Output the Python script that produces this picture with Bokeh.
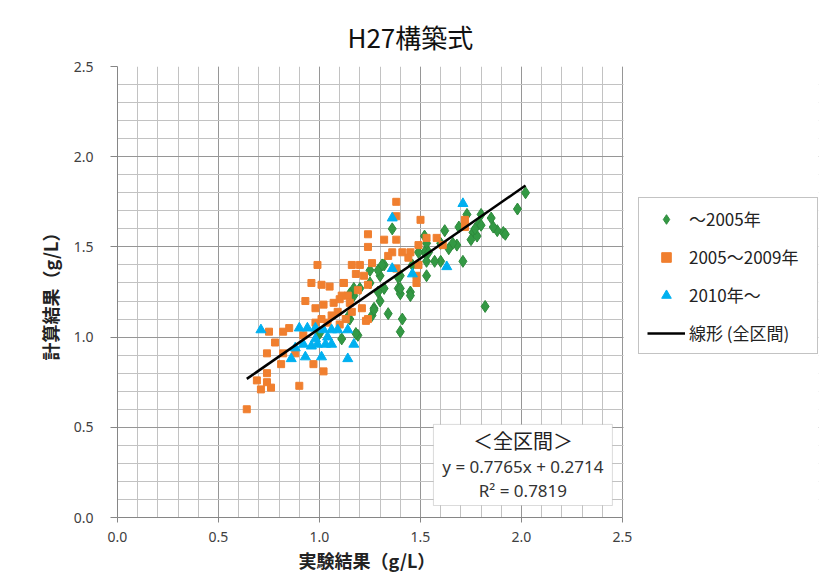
import numpy as np
from bokeh.plotting import figure
from bokeh.models import (Range1d, SingleIntervalTicker, NumeralTickFormatter, Legend,
                          LegendItem, BoxAnnotation, Label, Title)
from bokeh.embed import file_html
from bokeh.resources import INLINE

# ---------------- data ----------------
title_text = "H27構築式"
x_label = "実験結果（g/L）"
y_label = "計算結果（g/L）"
series_names = ["～2005年", "2005～2009年", "2010年～"]
trend_name = "線形 (全区間)"
box_title = "＜全区間＞"
slope = 0.7765
intercept = 0.2714
r2 = 0.7819
axis_min, axis_max = 0.0, 2.5

g_x = [1.36, 1.32, 1.30, 1.40, 1.46, 1.52, 1.53, 1.25, 1.32, 1.39, 1.45, 1.40, 1.20, 1.17,
       1.29, 1.52, 1.30, 1.45, 1.27, 1.26, 1.34, 1.41, 1.40, 1.19, 1.15, 1.11, 2.02, 1.98,
       1.91, 1.88, 1.86, 1.85, 1.80, 1.79, 1.73, 1.76, 1.78, 1.75, 1.71, 1.68, 1.69, 1.66,
       1.62, 1.60, 1.64, 1.60, 1.57, 1.53, 1.53, 1.82, 1.39, 1.54, 1.92, 1.80, 1.77, 1.25,
       1.29, 1.31, 1.40, 1.27, 1.17, 1.15, 1.14, 1.18, 1.49, 1.00]
g_y = [1.60, 1.40, 1.34, 1.34, 1.40, 1.56, 1.52, 1.30, 1.27, 1.27, 1.25, 1.24, 1.27, 1.23,
       1.25, 1.47, 1.20, 1.23, 1.16, 1.12, 1.13, 1.10, 1.03, 1.01, 1.10, 0.99, 1.80, 1.71,
       1.58, 1.59, 1.61, 1.66, 1.68, 1.63, 1.68, 1.58, 1.56, 1.54, 1.42, 1.51, 1.61, 1.52,
       1.59, 1.52, 1.49, 1.42, 1.42, 1.42, 1.34, 1.17, 1.33, 1.47, 1.57, 1.62, 1.60, 1.37,
       1.37, 1.40, 1.27, 1.15, 1.27, 1.24, 1.11, 1.02, 1.47, 1.02]

o_x = [0.99, 0.96, 1.01, 1.05, 0.93, 0.98, 1.02, 1.07, 0.75, 0.85, 0.82, 0.78, 0.74, 0.82,
       0.81, 0.88, 0.97, 1.02, 0.74, 0.69, 0.74, 0.71, 0.76, 0.90, 0.64, 0.98, 1.04, 0.92,
       1.38, 1.38, 1.50, 1.24, 1.32, 1.38, 1.24, 1.36, 1.41, 1.45, 1.49, 1.34, 1.16, 1.20,
       1.26, 1.18, 1.22, 1.12, 1.24, 1.14, 1.11, 1.48, 1.49, 1.38, 1.44, 1.19, 1.48, 1.10,
       1.15, 1.21, 1.24, 1.09, 1.13, 1.01, 1.53, 1.58, 1.61, 1.72, 1.72, 1.06, 1.10, 1.16,
       1.12, 1.23]
o_y = [1.40, 1.30, 1.29, 1.28, 1.20, 1.16, 1.18, 1.19, 1.03, 1.05, 1.03, 0.97, 0.91, 0.91,
       0.85, 0.91, 0.85, 0.81, 0.80, 0.76, 0.75, 0.71, 0.72, 0.73, 0.60, 1.08, 1.08, 1.01,
       1.75, 1.67, 1.65, 1.57, 1.54, 1.54, 1.50, 1.47, 1.47, 1.47, 1.51, 1.45, 1.40, 1.40,
       1.41, 1.35, 1.34, 1.30, 1.29, 1.23, 1.23, 1.30, 1.40, 1.38, 1.44, 1.26, 1.34, 1.21,
       1.19, 1.16, 1.10, 1.14, 1.10, 1.10, 1.55, 1.55, 1.51, 1.65, 1.61, 1.12, 1.07, 1.14,
       1.30, 1.09]

c_x = [0.71, 0.90, 0.94, 0.98, 1.02, 1.06, 1.09, 1.14, 0.86, 0.93, 1.01, 1.14, 0.92, 0.96,
       0.99, 1.03, 1.06, 0.98, 1.04, 0.88, 1.17, 1.36, 1.36, 1.46, 1.71, 1.63]
c_y = [1.04, 1.05, 1.05, 1.05, 1.04, 1.04, 1.04, 1.04, 0.88, 0.89, 0.89, 0.88, 0.96, 0.95,
       0.96, 0.96, 0.96, 0.99, 1.00, 0.94, 0.96, 1.66, 1.38, 1.35, 1.74, 1.39]

# ---------------- layout (pixels) ----------------
W, H = 820, 576
LEFT, TOP, BOTTOM, RIGHT = 117, 66, 59, 2
PLOT_W = 505                      # pixel width of the 0..2.5 plot area
frame_w = W - LEFT - RIGHT
x_end = axis_max * frame_w / PLOT_W  # frame extends right to hold the legend

CJK = "Noto Sans CJK JP"
NUM = "Noto Sans"

p = figure(width=W, height=H, x_range=Range1d(axis_min, x_end), y_range=Range1d(axis_min, axis_max),
           output_backend="svg", toolbar_location=None,
           min_border_left=LEFT, min_border_right=RIGHT, min_border_top=TOP, min_border_bottom=BOTTOM)
p.background_fill_color = "white"
p.border_fill_color = "white"
p.outline_line_color = None

p.add_layout(Title(text=title_text, align="left", offset=230, standoff=24,
                   text_font=CJK, text_font_size="26px", text_font_style="normal",
                   text_color="#111111"), "above")

for ax in (p.xaxis, p.yaxis):
    ax.ticker = SingleIntervalTicker(interval=0.5, num_minor_ticks=5)
    ax.formatter = NumeralTickFormatter(format="0.0")
    ax.bounds = (axis_min, axis_max)
    ax.axis_line_color = "#868686"
    ax.major_tick_line_color = "#868686"
    ax.major_tick_in = 0
    ax.minor_tick_line_color = None
    ax.major_label_text_font = NUM
    ax.major_label_text_font_size = "14px"
    ax.major_label_text_color = "#404040"
    ax.axis_label_text_font = CJK
    ax.axis_label_text_font_style = "bold"
    ax.axis_label_text_font_size = "18px"
    ax.axis_label_text_color = "#222222"

p.xaxis.major_tick_out = 5
p.xaxis.major_label_standoff = 9
p.yaxis.major_tick_out = 7
p.yaxis.major_label_standoff = 17
p.yaxis.axis_label_standoff = 8
p.yaxis.axis_label = y_label

# x-axis title, centred under the 0..2.5 plot area
p.add_layout(Title(text=x_label, align="left", offset=181, standoff=0,
                   text_font=CJK, text_font_size="18px", text_font_style="bold",
                   text_color="#222222"), "below")

for gr in (p.xgrid, p.ygrid):
    gr.bounds = (axis_min, axis_max)
    gr.grid_line_color = "#969696"
    gr.grid_line_width = 1
    gr.minor_grid_line_color = "#C2C2C2"
    gr.minor_grid_line_width = 1

# white cover for the grid outside the 0..2.5 plot area (legend zone)
p.add_layout(BoxAnnotation(left=axis_max + 1.0 / (PLOT_W / axis_max), fill_color="white",
                           fill_alpha=1, line_color=None, level="underlay"))

rg = p.scatter(g_x, g_y, marker="diamond", size=12, fill_color="#339944",
               line_color="#2E8A3C", line_width=1)
ro = p.scatter(o_x, o_y, marker="square", size=7, fill_color="#F07F2F",
               line_color="#F07F2F", line_width=1)
rc = p.scatter(c_x, c_y, marker="triangle", size=10, fill_color="#00B0F0",
               line_color="#00B0F0", line_width=1)

all_x = np.array(g_x + o_x + c_x)
tx = np.array([all_x.min(), all_x.max()])
rt = p.line(tx, slope * tx + intercept, line_color="black", line_width=2.5)

legend = Legend(items=[LegendItem(label=series_names[0], renderers=[rg]),
                       LegendItem(label=series_names[1], renderers=[ro]),
                       LegendItem(label=series_names[2], renderers=[rc]),
                       LegendItem(label=trend_name, renderers=[rt])],
                location=(521, 163), margin=0, padding=8, spacing=13,
                glyph_width=38, glyph_height=24, label_standoff=4, label_width=120,
                label_text_font=CJK, label_text_font_size="17px", label_text_color="#222222",
                border_line_color="#888888", border_line_width=1,
                background_fill_color="white", background_fill_alpha=1)
p.add_layout(legend)

box = BoxAnnotation(left=1.564, right=2.45, bottom=0.0665, top=0.516,
                    fill_color="white", fill_alpha=1, line_color="#888888", line_width=1)
p.add_layout(box)

bx = (1.564 + 2.45) / 2
p.add_layout(Label(x=bx, y=0.427, text=box_title, text_align="center", text_baseline="middle",
                   text_font=CJK, text_font_size="20px", text_color="#222222"))
p.add_layout(Label(x=bx, y=0.283, text=f"y = {slope:.4f}x + {intercept:.4f}", text_align="center",
                   text_baseline="middle", text_font=NUM, text_font_size="17px", text_color="#333333"))
p.add_layout(Label(x=bx, y=0.150, text=f"R² = {r2:.4f}", text_align="center",
                   text_baseline="middle", text_font=NUM, text_font_size="17px", text_color="#333333"))

open("out.html", "w").write(file_html(p, INLINE))
